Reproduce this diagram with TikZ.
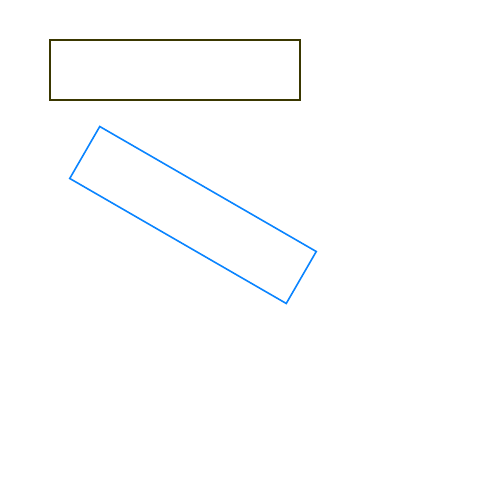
\documentclass[tikz,border=0pt]{standalone}
\definecolor{olivedark}{RGB}{58,55,0}
\definecolor{brightblue}{RGB}{10,132,255}
\begin{document}
\begin{tikzpicture}[x=1pt,y=1pt,
  box/.style={draw, rectangle, inner sep=0pt, minimum width=250pt, minimum height=60pt, line width=1.6pt}]
\useasboundingbox (0,0) rectangle (500,500);
\node[box, draw=olivedark] (top) at (175,430) {};
\node[box, draw=brightblue, rotate=-30] (tilted) at (193,285) {};
\end{tikzpicture}
\end{document}
